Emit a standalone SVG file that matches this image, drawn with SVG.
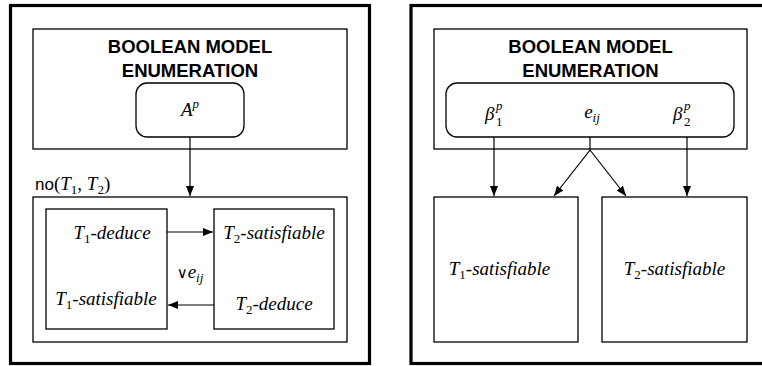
<svg xmlns="http://www.w3.org/2000/svg" width="762" height="366" viewBox="0 0 762 366">
<style>
.frame{fill:none;stroke:#000;stroke-width:3.2}
.box{fill:#fff;stroke:#000;stroke-width:1.3}
.line{fill:none;stroke:#000;stroke-width:1.2}
.title{font-family:"Liberation Sans",Arial,sans-serif;font-weight:bold;font-size:18.5px;text-anchor:middle}
.m{font-family:"Liberation Serif","Times New Roman",serif;font-style:italic;font-size:19px;text-anchor:middle}
.ms{font-family:"Liberation Serif","Times New Roman",serif;font-style:italic;font-size:19px}
.sub{font-style:normal;font-size:13px}
.subi{font-style:italic;font-size:13px}
.sm{font-family:"Liberation Serif","Times New Roman",serif;font-size:13px}
.sf{font-family:"Liberation Sans",Arial,sans-serif;font-style:normal;font-size:17px}
</style>
<defs>
<marker id="arr" viewBox="0 0 10 8" refX="10" refY="4" markerWidth="10" markerHeight="8" markerUnits="userSpaceOnUse" orient="auto">
<path d="M0,0 L10,4 L0,8 Z" fill="#000"/>
</marker>
</defs>
<rect width="762" height="366" fill="#fff"/>

<g id="left-panel">
<rect class="frame" x="10.5" y="5.5" width="359" height="358"/>
</g>
<g id="left-bme">
<rect class="box" x="33" y="29" width="314" height="120"/>
<text class="title" x="190" y="53">BOOLEAN MODEL</text>
<text class="title" x="190" y="77">ENUMERATION</text>
</g>
<g id="left-ap">
<rect class="box" x="136" y="83" width="108" height="54" rx="11"/>
<text class="m" x="190" y="116" font-size="21">A<tspan class="subi" dy="-8">p</tspan></text>
</g>
<g id="no-box">
<text x="35" y="190" class="ms"><tspan class="sf">no</tspan><tspan font-style="normal">(</tspan>T<tspan class="sub" dy="4">1</tspan><tspan dy="-4" font-style="normal">, </tspan>T<tspan class="sub" dy="4">2</tspan><tspan dy="-4" font-style="normal">)</tspan></text>
<rect class="box" x="33" y="197" width="314" height="145"/>
</g>
<g id="t1-box">
<rect class="box" x="46" y="209" width="121" height="120"/>
<text class="m" x="112" y="239">T<tspan class="sub" dy="4">1</tspan><tspan dy="-4">-deduce</tspan></text>
<text class="m" x="106" y="305">T<tspan class="sub" dy="4">1</tspan><tspan dy="-4">-satisfiable</tspan></text>
</g>
<g id="t2-box">
<rect class="box" x="214" y="209" width="120" height="120"/>
<text class="m" x="274" y="239">T<tspan class="sub" dy="4">2</tspan><tspan dy="-4">-satisfiable</tspan></text>
<text class="m" x="274" y="310">T<tspan class="sub" dy="4">2</tspan><tspan dy="-4">-deduce</tspan></text>
</g>
<g id="eij-label">
<text class="m" x="190" y="278"><tspan font-style="normal" font-family="DejaVu Sans" font-size="15">∨</tspan>e<tspan class="subi" dy="4">ij</tspan></text>
</g>

<g id="right-panel">
<rect class="frame" x="411" y="5.5" width="360" height="358"/>
</g>
<g id="right-bme">
<rect class="box" x="434" y="29" width="313" height="120"/>
<text class="title" x="590.5" y="53">BOOLEAN MODEL</text>
<text class="title" x="590.5" y="77">ENUMERATION</text>
</g>
<g id="right-vars">
<rect class="box" x="446" y="83" width="288" height="54" rx="11"/>
<text class="ms" x="485" y="120">β</text>
<text class="sm" font-style="italic" x="496" y="110">p</text>
<text class="sm" x="496" y="126">1</text>
<text class="m" x="592" y="118">e<tspan class="subi" dy="4">ij</tspan></text>
<text class="ms" x="673" y="120">β</text>
<text class="sm" font-style="italic" x="684" y="110">p</text>
<text class="sm" x="684" y="126">2</text>
</g>
<g id="r-t1">
<rect class="box" x="434" y="197" width="144" height="145"/>
<text class="m" x="499.5" y="275">T<tspan class="sub" dy="4">1</tspan><tspan dy="-4">-satisfiable</tspan></text>
</g>
<g id="r-t2">
<rect class="box" x="602" y="197" width="145" height="145"/>
<text class="m" x="674.5" y="275">T<tspan class="sub" dy="4">2</tspan><tspan dy="-4">-satisfiable</tspan></text>
</g>

<g id="connectors">
<line class="line" x1="190" y1="137" x2="190" y2="196" marker-end="url(#arr)"/>
<line class="line" x1="167" y1="232" x2="213" y2="232" marker-end="url(#arr)"/>
<line class="line" x1="214" y1="305" x2="168" y2="305" marker-end="url(#arr)"/>
<line class="line" x1="494" y1="137" x2="494" y2="196" marker-end="url(#arr)"/>
<line class="line" x1="687" y1="137" x2="687" y2="196" marker-end="url(#arr)"/>
<polyline class="line" points="590,137 590,150 554,196" marker-end="url(#arr)"/>
<line class="line" x1="590" y1="150" x2="626" y2="196" marker-end="url(#arr)"/>
</g>
</svg>
